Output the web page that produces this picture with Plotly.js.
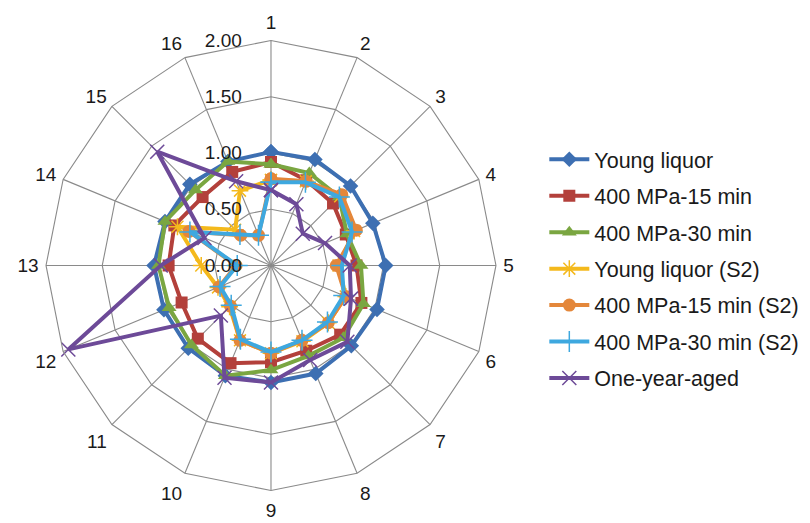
<!DOCTYPE html>
<html>
<head>
<meta charset="utf-8">
<script src="https://cdn.plot.ly/plotly-3.0.1.min.js"></script>
<style>html,body{margin:0;padding:0;background:#fff}#chart{width:810px;height:523px}</style>
</head>
<body>
<div id="chart"></div>
<script>
const categories = ["1","2","3","4","5","6","7","8","9","10","11","12","13","14","15","16"];
const seriesNames = ["Young liquor","400 MPa-15 min","400 MPa-30 min","Young liquor (S2)","400 MPa-15 min (S2)","400 MPa-30 min (S2)","One-year-aged"];
const youngLiquor   = [1.01,1.02,1.00,0.98,1.02,1.02,1.01,1.04,1.04,1.06,1.04,1.03,1.04,1.02,1.02,1.00];
const mpa15         = [0.92,0.82,0.78,0.72,0.76,0.87,0.87,0.82,0.86,0.94,0.92,0.86,0.91,0.93,0.86,0.90];
const mpa30         = [0.90,0.89,0.86,0.73,0.80,0.89,0.91,0.87,0.93,1.06,1.00,0.98,1.00,1.02,0.95,1.00];
const youngS2       = [0.76,0.81,0.87,0.80,0.60,0.72,0.72,0.73,0.78,0.72,0.52,0.51,0.62,0.90,0.45,0.72];
const mpa15S2       = [0.77,0.81,0.89,0.82,0.58,0.72,0.72,0.72,0.78,0.72,0.51,0.50,0.31,0.79,0.38,0.29];
const mpa30S2       = [0.74,0.80,0.86,0.78,0.63,0.70,0.71,0.72,0.77,0.71,0.50,0.49,0.30,0.78,0.39,0.29];
const oneYearAged   = [0.67,0.59,0.40,0.52,0.70,0.77,0.96,0.91,1.04,1.08,0.63,1.95,0.98,0.64,1.43,0.81];
const radialTicks = [0,0.5,1,1.5,2];
const radialTickText = ["0.00","0.50","1.00","1.50","2.00"];

const allValues = [youngLiquor, mpa15, mpa30, youngS2, mpa15S2, mpa30S2, oneYearAged];
const colors = ["#3D6FB2","#B3403B","#7AA641","#F4B91C","#E4873A","#3EA8DF","#6D4A98"];
const symbols = ["diamond","square","triangle-up","asterisk-open","circle","cross-thin-open","x-thin-open"];
const msizes = [12,12,13,14,13,15,14];

const traces = allValues.map((vals, i) => {
  const lineSym = symbols[i].indexOf("open") >= 0;
  return {
    type: "scatterpolar",
    mode: "lines+markers",
    name: seriesNames[i],
    legendgroup: "g" + i,
    r: vals.concat([vals[0]]),
    theta: categories.concat([categories[0]]),
    line: {color: colors[i], width: 4},
    marker: {
      symbol: symbols[i],
      size: msizes[i],
      color: colors[i],
      line: lineSym ? {color: colors[i], width: 1.5} : {width: 0}
    },
    cliponaxis: false
  };
});

const layout = {
  width: 810, height: 523,
  margin: {l: 0, r: 0, t: 0, b: 0},
  paper_bgcolor: "#ffffff",
  font: {family: "Liberation Sans, Arial, sans-serif", size: 19, color: "#1a1a1a"},
  showlegend: true,
  legend: {
    x: 0.672, y: 0.486, xanchor: "left", yanchor: "middle",
    font: {size: 21.5, color: "#1a1a1a"},
    tracegroupgap: 5.5,
    itemwidth: 40,
    bgcolor: "rgba(0,0,0,0)"
  },
  polar: {
    domain: {x: [0.0568, 0.6123], y: [0.0622, 0.9226]},
    gridshape: "linear",
    bgcolor: "#ffffff",
    radialaxis: {
      range: [0, 2],
      tickvals: radialTicks,
      ticktext: radialTickText,
      angle: 90,
      tickangle: 90,
      side: "counterclockwise",
      showline: false,
      ticks: "outside",
      ticklen: 22,
      tickcolor: "rgba(0,0,0,0)",
      gridcolor: "#8a8a8a",
      gridwidth: 1.1,
      tickfont: {size: 19, color: "#1a1a1a"}
    },
    angularaxis: {
      type: "category",
      categoryarray: categories,
      direction: "clockwise",
      rotation: 90,
      showline: true,
      linecolor: "#8a8a8a",
      linewidth: 1.1,
      gridcolor: "#8a8a8a",
      gridwidth: 1.1,
      ticks: "outside",
      ticklen: 3,
      tickcolor: "rgba(0,0,0,0)",
      tickfont: {size: 19, color: "#1a1a1a"}
    }
  }
};

Plotly.newPlot("chart", traces, layout, {displayModeBar: false, staticPlot: true});
</script>
</body>
</html>
